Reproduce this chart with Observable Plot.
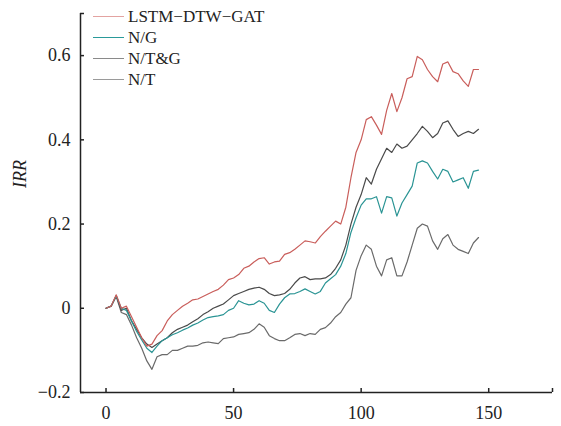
<!DOCTYPE html>
<html><head><meta charset="utf-8">
<script src="https://cdn.jsdelivr.net/npm/d3@7"></script>
<script src="https://cdn.jsdelivr.net/npm/@observablehq/plot@0.6"></script>
<style>
body{margin:0;background:#fff;}
#wrap{position:relative;width:561px;height:426px;font-family:"Liberation Serif","Times New Roman",serif;}
#legend{position:absolute;left:93px;top:6px;font-size:17px;color:#222;font-family:"Liberation Serif","Times New Roman",serif;}
.row{display:flex;align-items:center;height:21px;}
.sw{width:31px;height:0;border-top:1.5px solid;margin-right:4px;}
</style></head><body><div id="wrap"></div>
<script>
const steps = [0,2,4,6,8,10,12,14,16,18,20,22,24,26,28,30,32,34,36,38,40,42,44,46,48,50,52,54,56,58,60,62,64,66,68,70,72,74,76,78,80,82,84,86,88,90,92,94,96,98,100,102,104,106,108,110,112,114,116,118,120,122,124,126,128,130,132,134,136,138,140,142,144,146];

const lstmDtwGat = [0.0,0.005,0.032,0.0,0.005,-0.02,-0.045,-0.07,-0.09,-0.085,-0.065,-0.053,-0.03,-0.015,-0.005,0.005,0.012,0.02,0.022,0.028,0.034,0.04,0.045,0.055,0.068,0.072,0.08,0.095,0.1,0.11,0.118,0.12,0.105,0.11,0.112,0.128,0.132,0.14,0.15,0.16,0.158,0.155,0.17,0.183,0.195,0.207,0.2,0.24,0.31,0.37,0.40,0.448,0.455,0.435,0.413,0.47,0.51,0.467,0.50,0.545,0.55,0.598,0.59,0.567,0.55,0.538,0.58,0.585,0.562,0.557,0.54,0.527,0.567,0.567];

const nG = [0.0,0.005,0.03,0.0,-0.005,-0.03,-0.055,-0.075,-0.095,-0.105,-0.09,-0.077,-0.07,-0.063,-0.058,-0.052,-0.047,-0.04,-0.035,-0.028,-0.022,-0.02,-0.018,-0.015,-0.005,0.0,0.018,0.012,0.008,0.01,0.018,0.012,-0.005,-0.01,0.01,0.025,0.034,0.035,0.04,0.046,0.04,0.034,0.04,0.06,0.07,0.08,0.1,0.13,0.18,0.215,0.245,0.26,0.26,0.265,0.226,0.265,0.262,0.219,0.25,0.27,0.29,0.345,0.35,0.345,0.325,0.307,0.33,0.325,0.30,0.305,0.31,0.285,0.325,0.328];

const nTG = [0.0,0.005,0.03,-0.005,0.0,-0.03,-0.05,-0.07,-0.085,-0.093,-0.085,-0.077,-0.07,-0.058,-0.05,-0.045,-0.04,-0.032,-0.025,-0.015,-0.008,0.0,0.005,0.01,0.02,0.03,0.035,0.04,0.045,0.048,0.05,0.045,0.035,0.03,0.032,0.035,0.045,0.06,0.072,0.075,0.068,0.07,0.07,0.072,0.08,0.095,0.115,0.15,0.2,0.24,0.27,0.31,0.295,0.33,0.355,0.38,0.37,0.39,0.38,0.385,0.40,0.415,0.432,0.42,0.405,0.415,0.44,0.445,0.425,0.408,0.415,0.42,0.415,0.425];

const nT = [0.0,0.005,0.028,-0.01,-0.015,-0.04,-0.07,-0.095,-0.125,-0.145,-0.115,-0.11,-0.11,-0.1,-0.1,-0.095,-0.09,-0.09,-0.088,-0.082,-0.08,-0.082,-0.084,-0.072,-0.07,-0.068,-0.062,-0.06,-0.058,-0.05,-0.037,-0.045,-0.065,-0.072,-0.077,-0.077,-0.07,-0.062,-0.06,-0.065,-0.06,-0.062,-0.05,-0.046,-0.035,-0.02,-0.01,0.01,0.025,0.09,0.125,0.15,0.14,0.1,0.077,0.115,0.12,0.077,0.077,0.11,0.15,0.19,0.2,0.195,0.16,0.14,0.165,0.175,0.15,0.14,0.135,0.13,0.155,0.168];

const seriesNames = ["LSTM−DTW−GAT","N/G","N/T&G","N/T"];
const seriesColors = ["#c95e5b","#2a9494","#4a4a4a","#6a6a6a"];
const legendColors = ["#e3a3a1","#2a9a9a","#8a8a8a","#9a9a9a"];
const seriesValues = [lstmDtwGat, nG, nTG, nT];

const xTickLabels = [0,50,100,150];
const xTickMarks = [0,50,100,150,175];
const yTickLabels = [-0.2,0,0.2,0.4,0.6];
const yTickMarks = [-0.2,0,0.2,0.4,0.6,0.7];

const fmt = d => d === 0 ? "0" : (d < 0 ? "−" + Math.abs(d) : String(d));

const W = 561, H = 426, mL = 80, mR = 9, mT = 13, mB = 34;
const fw = W - mL - mR, fh = H - mT - mB;
const FONT = '"Liberation Serif","Times New Roman",serif';

const lineMarks = [3,2,1,0].map(i =>
  Plot.line(steps.map((x, j) => ({x, y: seriesValues[i][j]})), {
    x: "x", y: "y", stroke: seriesColors[i], strokeWidth: 1.2
  })
);

const chart = Plot.plot({
  width: W, height: H,
  marginLeft: mL, marginRight: mR, marginTop: mT, marginBottom: mB,
  style: {fontFamily: FONT, fontSize: "18px", background: "#fff", color: "#222"},
  x: {domain: [-10, 175]},
  y: {domain: [-0.2, 0.7]},
  marks: [
    Plot.axisX({ticks: xTickLabels, tickSize: 0, tickPadding: 14, label: null, tickFormat: fmt, fontSize: 18}),
    Plot.axisY({ticks: yTickLabels, tickSize: 0, tickPadding: 10, label: null, tickFormat: fmt, fontSize: 18}),
    Plot.tickX(xTickMarks, {x: d => d, insetTop: fh - 4, stroke: "#222", strokeWidth: 1.5}),
    Plot.tickY(yTickMarks, {y: d => d, insetRight: fw - 4, stroke: "#222", strokeWidth: 1.5}),
    Plot.ruleY([-0.2], {stroke: "#222", strokeWidth: 1.5}),
    Plot.ruleX([-10], {stroke: "#222", strokeWidth: 1.5}),
    ...lineMarks,
    Plot.text(["IRR"], {frameAnchor: "left", dx: -60, dy: -15, rotate: -90, fontStyle: "italic", fontSize: 18, fill: "#222"})
  ]
});

const wrap = document.getElementById("wrap");
wrap.appendChild(chart);
const legend = document.createElement("div");
legend.id = "legend";
seriesNames.forEach((n, i) => {
  const r = document.createElement("div");
  r.className = "row";
  const s = document.createElement("span");
  s.className = "sw";
  s.style.borderTopColor = legendColors[i];
  const t = document.createElement("span");
  t.textContent = n;
  r.appendChild(s); r.appendChild(t);
  legend.appendChild(r);
});
wrap.appendChild(legend);
</script></body></html>
